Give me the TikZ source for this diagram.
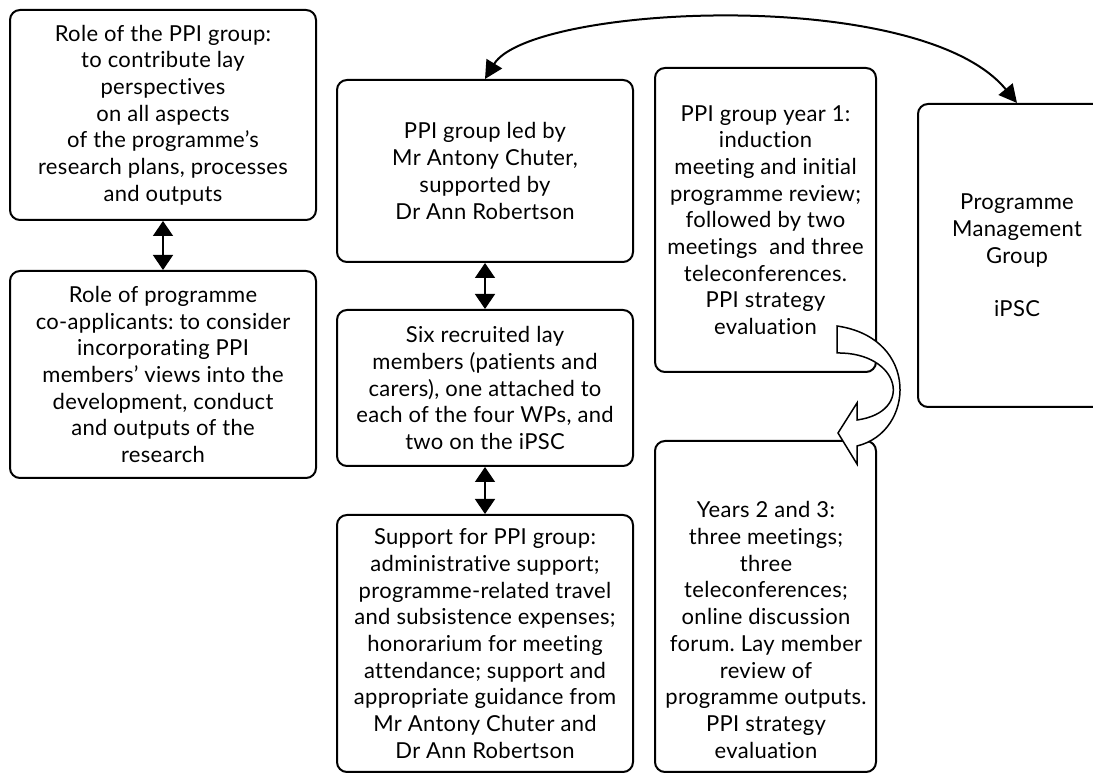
\documentclass[tikz,border=0pt]{standalone}
\usepackage{fontspec}
\setmainfont{Lato}[Ligatures=NoCommon, LetterSpace=1.5]
\usetikzlibrary{arrows.meta,calc}
\frenchspacing
\begin{document}
\begin{tikzpicture}[x=0.5pt,y=-0.5pt,
  box/.style={draw, line width=1pt, rounded corners=5pt, inner sep=0pt, align=center, font=\fontsize{11}{13.35}\selectfont},
  txt/.style={inner sep=0pt, align=center, font=\fontsize{11}{13.35}\selectfont},
  dbl/.style={line width=0.75pt, {Triangle[width=10pt,length=7.5pt]}-{Triangle[width=10pt,length=7.5pt]}},
  curv/.style={line width=1pt, {Triangle[width=9pt,length=9pt]}-{Triangle[width=9pt,length=9pt]}},
  blockarrow/.style={draw, fill=white, line width=0.75pt, line join=miter}
]
\useasboundingbox (0,0) rectangle (1093,774);
\clip (0,0) rectangle (1093,774);

\node[box, minimum width=153pt, minimum height=105pt] (b1) at (163,115)
  {Role of the PPI group:\\to contribute lay\\perspectives\\on all aspects\\of the programme’s\\research plans, processes\\and outputs};
\node[box, minimum width=153pt, minimum height=103.5pt] (b2) at (163,374.5)
  {Role of programme\\co-applicants: to consider\\incorporating PPI\\members’ views into the\\development, conduct\\and outputs of the\\research};
\node[box, minimum width=148pt, minimum height=91pt] (b3) at (485,171)
  {PPI group led by\\Mr Antony Chuter,\\supported by\\Dr Ann Robertson};
\node[box, minimum width=148pt, minimum height=78pt] (b4) at (485,388)
  {Six recruited lay\\members (patients and\\carers), one attached to\\each of the four WPs, and\\two on the iPSC};
\node[box, minimum width=148pt, minimum height=128.5pt] (b5) at (485,643.5)
  {Support for PPI group:\\administrative support;\\programme-related travel\\and subsistence expenses;\\honorarium for meeting\\attendance; support and\\appropriate guidance from\\Mr Antony Chuter and\\Dr Ann Robertson};
\node[box, minimum width=110.5pt, minimum height=152pt] (b6) at (765.5,220)
  {PPI group year 1:\\induction\\meeting and initial\\programme review;\\followed by two\\meetings\ \ and three\\teleconferences.\\PPI strategy\\evaluation};
\node[box, minimum width=110.5pt, minimum height=165.5pt] (b7) at (765.5,606.5) {};
\node[txt] (t7) at (766,630)
  {Years 2 and 3:\\three meetings;\\three\\teleconferences;\\online discussion\\forum. Lay member\\review of\\programme outputs.\\PPI strategy\\evaluation};
\node[box, minimum width=99pt, minimum height=151.5pt] (b8) at (1017,255.5)
  {Programme\\Management\\Group\\[13.35pt]iPSC};

\draw[dbl] (b1.south) -- (b2.north);
\draw[dbl] (b3.south) -- (b4.north);
\draw[dbl] (b4.south) -- (b5.north);

\draw[curv] (b3.north) .. controls (530,5) and (920,-15) .. (b8.north);

\path[blockarrow] (837,326) -- (837,353)
  .. controls (900,352) and (915,412) .. (857,420)
  -- (857,403) -- (838,433) -- (857,464) -- (857,446)
  .. controls (915,432) and (920,338) .. (837,326) -- cycle;
\end{tikzpicture}
\end{document}
